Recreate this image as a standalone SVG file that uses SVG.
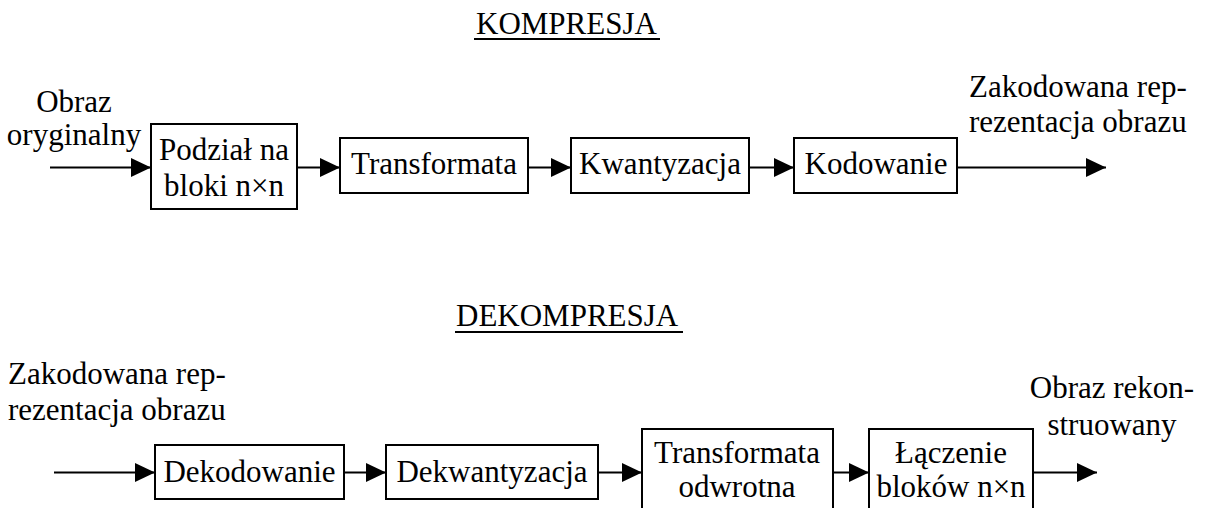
<svg xmlns="http://www.w3.org/2000/svg" width="1210" height="508" viewBox="0 0 1210 508">
<style>
text{font-family:"Liberation Serif","Times New Roman",serif;font-size:31px;fill:#000}
.c{text-anchor:middle}
.box{fill:#fff;stroke:#000;stroke-width:2}
.con{stroke:#000;stroke-width:2;fill:none;marker-end:url(#ah)}
.ul{stroke:#000;stroke-width:2}
</style>
<defs>
<marker id="ah" markerUnits="userSpaceOnUse" markerWidth="22" markerHeight="22" refX="20" refY="10" orient="auto">
<path d="M0,0.5 L20,10 L0,19.5 Z" fill="#000"/>
</marker>
</defs>
<rect width="1210" height="508" fill="#fff"/>

<g id="title-kompresja">
<text x="476" y="34">KOMPRESJA</text>
<line class="ul" x1="474" y1="39" x2="660" y2="39"/>
</g>
<g id="title-dekompresja">
<text x="456" y="326">DEKOMPRESJA</text>
<line class="ul" x1="455" y1="332" x2="683" y2="332"/>
</g>

<g id="label-in-top">
<text class="c" x="74" y="112">Obraz</text>
<text class="c" x="74" y="145">oryginalny</text>
</g>
<g id="label-out-top">
<text x="969" y="97">Zakodowana rep-</text>
<text x="969" y="132">rezentacja obrazu</text>
</g>
<g id="label-in-bottom">
<text x="8" y="384">Zakodowana rep-</text>
<text x="8" y="420">rezentacja obrazu</text>
</g>
<g id="label-out-bottom">
<text class="c" x="1112" y="398">Obraz rekon-</text>
<text class="c" x="1112" y="435">struowany</text>
</g>

<g id="node-podzial">
<rect class="box" x="151" y="124" width="146" height="85"/>
<text class="c" x="224" y="160">Podział na</text>
<text class="c" x="224" y="196">bloki n×n</text>
</g>
<g id="node-transformata">
<rect class="box" x="340" y="138" width="188" height="55"/>
<text class="c" x="434" y="174">Transformata</text>
</g>
<g id="node-kwantyzacja">
<rect class="box" x="571" y="138" width="178" height="55"/>
<text class="c" x="660" y="174">Kwantyzacja</text>
</g>
<g id="node-kodowanie">
<rect class="box" x="794" y="138" width="163" height="55"/>
<text class="c" x="876" y="174">Kodowanie</text>
</g>

<g id="node-dekodowanie">
<rect class="box" x="155" y="445" width="189" height="54"/>
<text class="c" x="249.5" y="482">Dekodowanie</text>
</g>
<g id="node-dekwantyzacja">
<rect class="box" x="386" y="445" width="212" height="54"/>
<text class="c" x="492" y="482">Dekwantyzacja</text>
</g>
<g id="node-transformata-odwrotna">
<rect class="box" x="642" y="429" width="191" height="86"/>
<text class="c" x="737" y="463">Transformata</text>
<text class="c" x="737" y="497">odwrotna</text>
</g>
<g id="node-laczenie">
<rect class="box" x="869" y="429" width="164" height="86"/>
<text class="c" x="951" y="463">Łączenie</text>
<text class="c" x="951" y="497">bloków n×n</text>
</g>

<g id="connectors">
<line class="con" x1="50" y1="167.5" x2="151" y2="167.5"/>
<line class="con" x1="297" y1="167.5" x2="340" y2="167.5"/>
<line class="con" x1="528" y1="167.5" x2="571" y2="167.5"/>
<line class="con" x1="749" y1="167.5" x2="794" y2="167.5"/>
<line class="con" x1="957" y1="167.5" x2="1106" y2="167.5"/>
<line class="con" x1="54" y1="472.5" x2="155" y2="472.5"/>
<line class="con" x1="344" y1="472.5" x2="386" y2="472.5"/>
<line class="con" x1="598" y1="472.5" x2="642" y2="472.5"/>
<line class="con" x1="833" y1="472.5" x2="869" y2="472.5"/>
<line class="con" x1="1033" y1="472.5" x2="1097" y2="472.5"/>
</g>
</svg>
